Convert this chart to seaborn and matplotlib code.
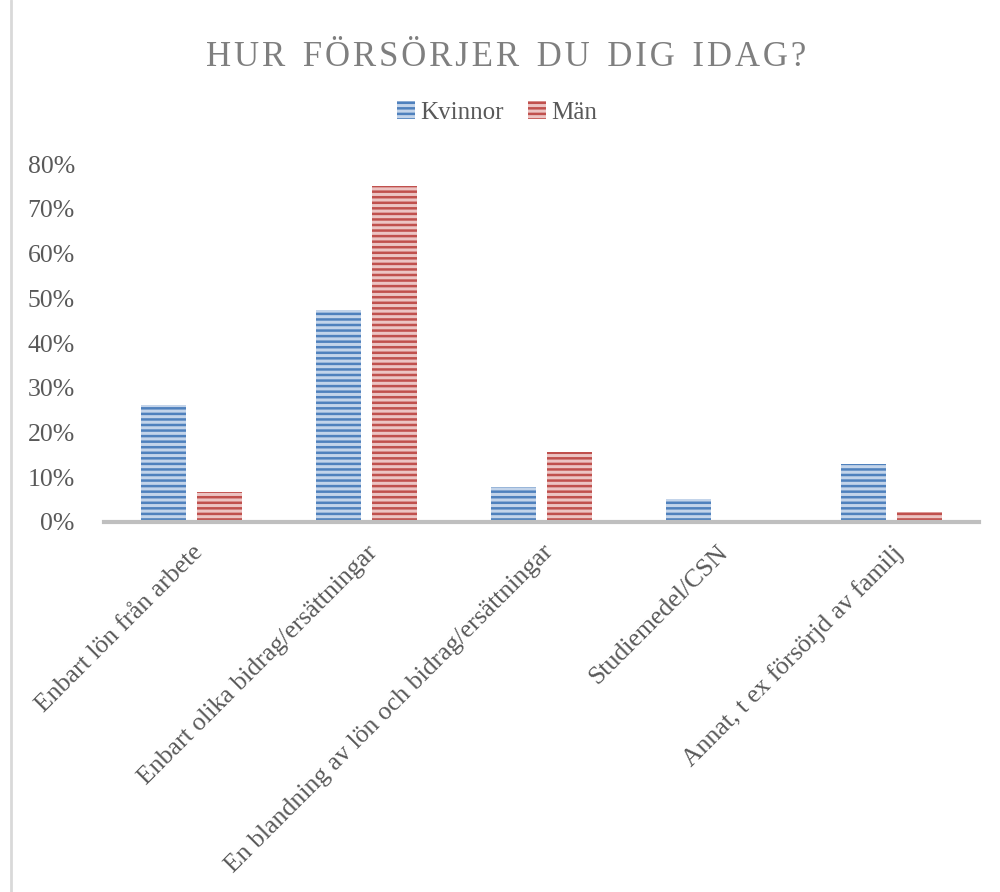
import matplotlib
matplotlib.use("Agg")
import matplotlib.pyplot as plt
from matplotlib.lines import Line2D
from matplotlib.patches import Patch
import seaborn as sns
import pandas as pd

categories = [
    "Enbart lön från arbete",
    "Enbart olika bidrag/ersättningar",
    "En blandning av lön och bidrag/ersättningar",
    "Studiemedel/CSN",
    "Annat, t ex försörjd av familj",
]
kvinnor = [0.261, 0.474, 0.078, 0.051, 0.130]
man = [0.067, 0.750, 0.157, 0.0, 0.022]
yticks = [0, 0.1, 0.2, 0.3, 0.4, 0.5, 0.6, 0.7, 0.8]

df = pd.DataFrame({
    "kategori": categories * 2,
    "andel": kvinnor + man,
    "kon": ["Kvinnor"] * len(categories) + ["Män"] * len(categories),
})

sns.set_theme(style="white")
plt.rcParams["font.family"] = ["Liberation Serif", "DejaVu Serif"]
plt.rcParams["hatch.linewidth"] = 1.8

fill = {"Kvinnor": "#c3d4ea", "Män": "#ecc4c3"}
stripe = {"Kvinnor": "#4f81bd", "Män": "#c0504d"}
grey = "#595959"

fig = plt.figure(figsize=(10, 8.92), dpi=100)
ax = fig.add_axes([0.104, 0.4148, 0.875, 0.4013])

sns.barplot(data=df, x="kategori", y="andel", hue="kon", order=categories,
            hue_order=["Kvinnor", "Män"], width=0.64, gap=0.2,
            legend=False, ax=ax)

for cont, name in zip(ax.containers, ["Kvinnor", "Män"]):
    for bar in cont:
        bar.set_facecolor(fill[name])
        bar.set_edgecolor(stripe[name])
        bar.set_hatch("---")
        bar.set_linewidth(0)

ax.set_xlim(-0.5, 4.5)
ax.set_ylim(0, 0.8)
ax.set_yticks(yticks)
ax.set_yticklabels([f"{int(round(v * 100))}%" for v in yticks])
ax.tick_params(axis="y", length=0, pad=21, labelsize=18.5, labelcolor=grey)
ax.tick_params(axis="x", length=0, pad=14, labelsize=18.5, labelcolor=grey)
plt.setp(ax.get_xticklabels(), rotation=45, ha="right", rotation_mode="anchor")
ax.set_xlabel("")
ax.set_ylabel("")
for side in ["top", "right", "left"]:
    ax.spines[side].set_visible(False)
ax.spines["bottom"].set_color("#bfbfbf")
ax.spines["bottom"].set_linewidth(3)

title = "\u200a".join("HUR FÖRSÖRJER DU DIG IDAG?").replace("\u200a \u200a", "  ")
fig.text(0.506, 0.936, title, ha="center", va="center", fontsize=25,
         color="#7f7f7f")

handles = [Patch(facecolor=fill[k], edgecolor=stripe[k], hatch="---", linewidth=0)
           for k in ["Kvinnor", "Män"]]
fig.legend(handles, ["Kvinnor", "Män"], loc="center", bbox_to_anchor=(0.497, 0.874),
           ncol=2, frameon=False, fontsize=18, labelcolor=grey,
           handlelength=0.7, handleheight=0.7, handletextpad=0.2, columnspacing=1.0)

fig.add_artist(Line2D([0.011, 0.011], [0, 1], transform=fig.transFigure,
                      color="#d9d9d9", linewidth=2))

fig.savefig("out.png", dpi=100, facecolor="white")
